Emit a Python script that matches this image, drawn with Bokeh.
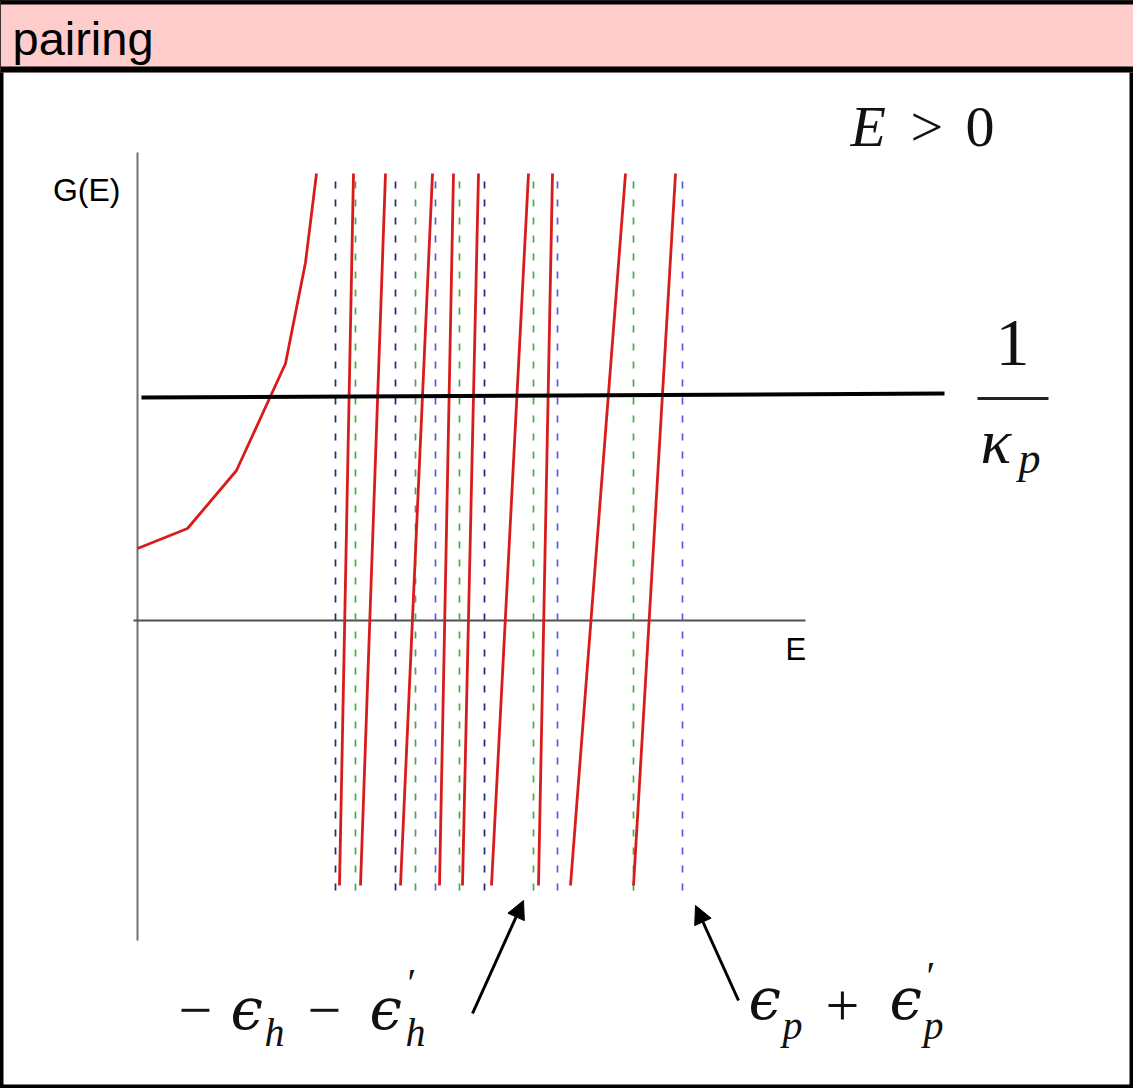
from bokeh.plotting import figure
from bokeh.models import Range1d, Span, Arrow, NormalHead
from bokeh.core.properties import value
from bokeh.embed import file_html
from bokeh.resources import INLINE

# ---- data (schematic energy units) ----
# pole positions: hole-hole poles (green) and particle-particle poles (blue)
pole_E = [1.98, 2.18, 2.58, 2.78, 2.98, 3.22, 3.47, 3.96, 4.20, 4.96, 5.45]
pole_color = ["#1f2a78", "#3fae3f", "#1f2a78", "#3fae3f", "#5a5ad6", "#3fae3f",
              "#1f2a78", "#3fae3f", "#5a5ad6", "#3fae3f", "#5a5ad6"]
pole_G_low, pole_G_high = -2.70, 4.48

# first branch of G(E) rising from E = 0
branch0_E = [0.00, 0.50, 0.99, 1.48, 1.68, 1.79]
branch0_G = [0.72, 0.92, 1.50, 2.57, 3.58, 4.47]

# steep branches between consecutive poles (start at bottom, end at top)
branch_E_low = [2.02, 2.23, 2.63, 3.02, 3.25, 3.54, 4.01, 4.33, 4.96]
branch_E_high = [2.16, 2.48, 2.95, 3.16, 3.41, 3.91, 4.15, 4.88, 5.38]
branch_G_low, branch_G_high = -2.65, 4.47

# coupling line 1/kappa_p
coupling_E = [0.04, 8.07]
coupling_G = [2.23, 2.27]

# axes extents
g_axis = (0.0, -3.20, 4.68)      # E position, G bottom, G top
e_axis = (0.0, -0.04, 6.68)      # G position, E left, E right

X0, X1 = -1.37, 9.96
Y0, Y1 = -4.68, 6.20
HEADER_BOTTOM = 5.48

p = figure(width=1133, height=1088, output_backend="svg", toolbar_location=None,
           x_axis_type=None, y_axis_type=None, min_border=0,
           x_range=Range1d(X0, X1), y_range=Range1d(Y0, Y1))
p.background_fill_color = "white"
p.border_fill_color = "white"
p.outline_line_color = "black"
p.outline_line_width = 6

# header band
p.quad(left=[X0], right=[X1], bottom=[HEADER_BOTTOM], top=[Y1],
       fill_color="#ffcccc", line_color=None)
p.add_layout(Span(location=Y1, dimension="width", line_color="black", line_width=8))
p.add_layout(Span(location=HEADER_BOTTOM + 0.03, dimension="width",
                  line_color="black", line_width=6))

SANS = "Liberation Sans"
SERIF = "Liberation Serif"
MATH = "DejaVu Serif"


def put(x, y, s, size, font=SERIF, style="normal", align="left", color="#111111"):
    p.text(x=[x], y=[y], text=[s], text_font=value(font), text_font_size=size,
           text_font_style=style, text_align=align, text_baseline="middle",
           text_color=color)


put(-1.25, 5.82, "pairing", "47px", font=SANS, color="black")

# axes
p.segment(x0=[g_axis[0]], y0=[g_axis[1]], x1=[g_axis[0]], y1=[g_axis[2]],
          line_color="#707070", line_width=2)
p.segment(x0=[e_axis[1]], y0=[e_axis[0]], x1=[e_axis[2]], y1=[e_axis[0]],
          line_color="#505050", line_width=2)
put(-0.17, 4.31, "G(E)", "32px", font=SANS, align="right", color="black")
put(6.48, -0.29, "E", "31px", font=SANS, color="black")

# poles
p.segment(x0=pole_E, y0=[pole_G_low] * len(pole_E), x1=pole_E,
          y1=[pole_G_high] * len(pole_E), line_color=pole_color,
          line_width=1.7, line_dash="7 11")

# G(E) branches
p.line(branch0_E, branch0_G, line_color="#d81c1c", line_width=2.8)
p.segment(x0=branch_E_low, y0=[branch_G_low] * len(branch_E_low),
          x1=branch_E_high, y1=[branch_G_high] * len(branch_E_high),
          line_color="#d81c1c", line_width=2.8)

# 1/kappa_p
p.line(coupling_E, coupling_G, line_color="black", line_width=4)

# E > 0
put(7.13, 4.94, "E", "58px", style="italic")
put(7.73, 4.94, ">", "58px")
put(8.28, 4.94, "0", "58px")

# 1 / kappa_p
put(8.75, 2.78, "1", "68px", align="center")
p.segment(x0=[8.40], y0=[2.22], x1=[9.11], y1=[2.22], line_color="#222222", line_width=3)
put(8.43, 1.79, "κ", "64px", style="italic")
put(8.81, 1.62, "p", "44px", style="italic")

# pole labels
put(0.41, -3.90, "−", "60px")
put(0.93, -3.88, "ϵ", "58px", font=MATH, style="italic")
put(1.27, -4.12, "h", "40px", style="italic")
put(1.70, -3.90, "−", "60px")
put(2.32, -3.88, "ϵ", "58px", font=MATH, style="italic")
put(2.70, -3.62, "′", "40px")
put(2.68, -4.12, "h", "40px", style="italic")

put(6.11, -3.78, "ϵ", "58px", font=MATH, style="italic")
put(6.45, -4.05, "p", "40px", style="italic")
put(6.88, -3.85, "+", "60px")
put(7.52, -3.78, "ϵ", "58px", font=MATH, style="italic")
put(7.89, -3.55, "′", "40px")
put(7.86, -4.05, "p", "40px", style="italic")

# arrows pointing to the outermost poles
head = dict(size=18, fill_color="black", line_color="black")
p.add_layout(Arrow(x_start=3.35, y_start=-3.93, x_end=3.86, y_end=-2.80,
                   line_width=3, end=NormalHead(**head)))
p.add_layout(Arrow(x_start=6.01, y_start=-3.80, x_end=5.58, y_end=-2.85,
                   line_width=3, end=NormalHead(**head)))

open("out.html", "w").write(file_html(p, INLINE))
